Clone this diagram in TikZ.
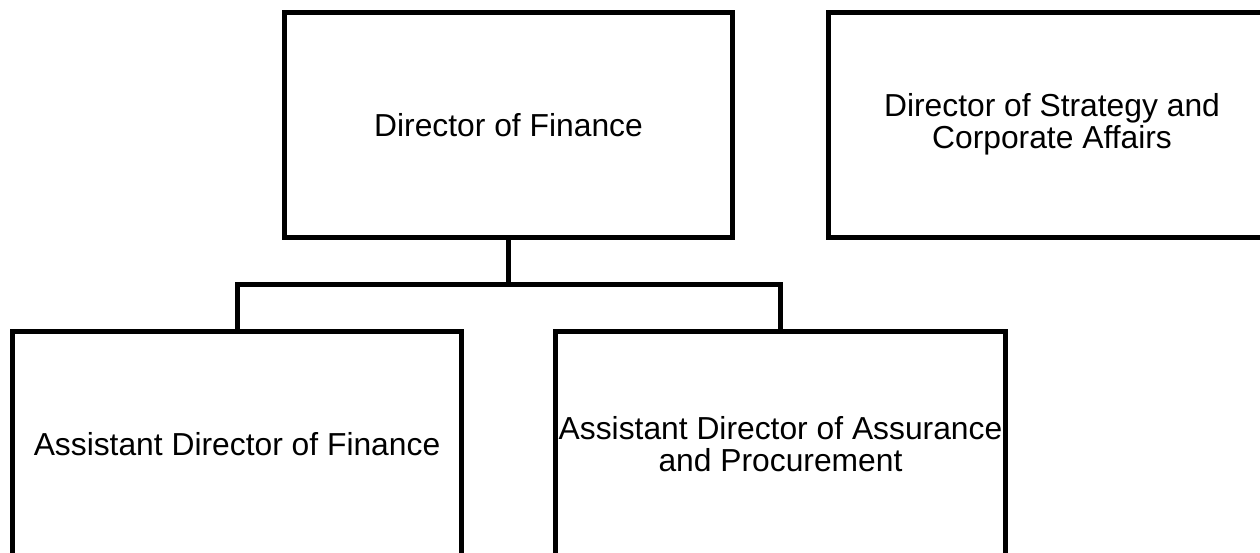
\documentclass[tikz,border=0pt]{standalone}
\usepackage{fontspec}
\setmainfont{Liberation Sans}
\begin{document}
\begin{tikzpicture}[x=1pt,y=-1pt,
  orgbox/.style={draw=black,line width=5pt,rectangle,inner sep=0pt,align=center,
    font=\fontsize{31.8}{32}\selectfont},
  link/.style={draw=black,line width=5pt}]
\useasboundingbox (0,0) rectangle (1260,552);
\clip (0,0) rectangle (1260,552);
\node[orgbox,minimum width=448pt,minimum height=225pt] (dof) at (508.5,125) {Director of Finance};
\node[orgbox,minimum width=448pt,minimum height=224.5pt] (dos) at (1052,124.75) {Director of Strategy and\\Corporate Affairs};
\node[orgbox,minimum width=449pt,minimum height=225pt] (adf) at (237,444) {Assistant Director of Finance};
\node[orgbox,minimum width=450pt,minimum height=225pt] (ada) at (780.5,444) {Assistant Director of Assurance\\and Procurement};
\coordinate (bus) at (508.5,284);
\draw[link] (dof.south) -- (bus) -| (adf.north);
\draw[link] (bus) -| (ada.north);
\end{tikzpicture}
\end{document}
